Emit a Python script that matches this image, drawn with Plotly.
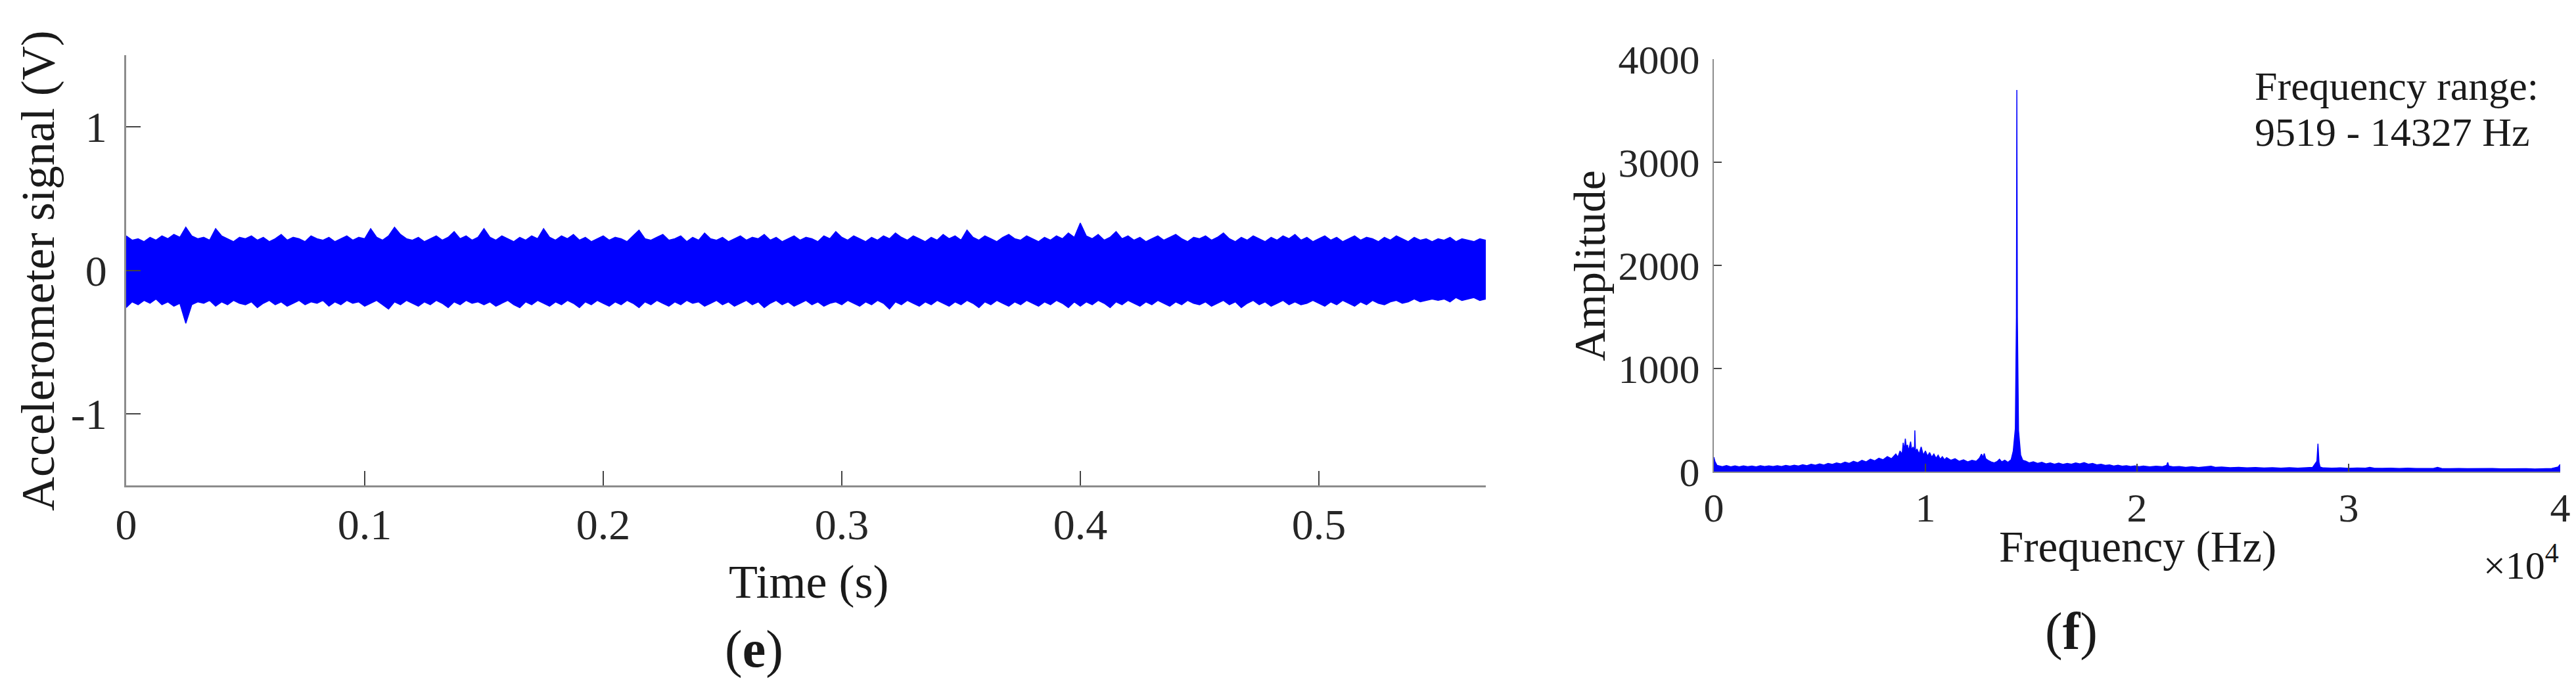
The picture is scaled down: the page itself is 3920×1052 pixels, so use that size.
import numpy as np
import plotly.graph_objects as go

W, H = 3920, 1052

# ---------------- (e) accelerometer signal: envelope ----------------
T_END = 0.57
SIG_UPPER = [
    0.24, 0.21, 0.22, 0.20, 0.23, 0.21, 0.24, 0.22, 0.25, 0.23, 0.30, 0.24, 0.22, 0.23, 0.21, 0.29, 0.24, 0.22, 0.20, 0.23,
    0.22, 0.24, 0.21, 0.23, 0.20, 0.22, 0.25, 0.21, 0.23, 0.22, 0.20, 0.24, 0.22, 0.21, 0.23, 0.20, 0.22, 0.24, 0.21, 0.23,
    0.22, 0.29, 0.23, 0.21, 0.24, 0.30, 0.25, 0.22, 0.21, 0.23, 0.20, 0.22, 0.24, 0.21, 0.23, 0.27, 0.22, 0.24, 0.21, 0.23,
    0.29, 0.23, 0.21, 0.24, 0.22, 0.20, 0.23, 0.21, 0.24, 0.22, 0.29, 0.23, 0.21, 0.24, 0.22, 0.25, 0.21, 0.23, 0.20, 0.22,
    0.24, 0.21, 0.23, 0.22, 0.20, 0.24, 0.28, 0.22, 0.21, 0.23, 0.25, 0.21, 0.22, 0.24, 0.20, 0.23, 0.21, 0.26, 0.22, 0.21,
    0.23, 0.20, 0.22, 0.24, 0.21, 0.23, 0.22, 0.25, 0.21, 0.23, 0.20, 0.22, 0.24, 0.21, 0.23, 0.22, 0.20, 0.24, 0.22, 0.27,
    0.23, 0.21, 0.24, 0.22, 0.20, 0.23, 0.21, 0.24, 0.22, 0.26, 0.23, 0.21, 0.24, 0.22, 0.20, 0.23, 0.21, 0.25, 0.22, 0.24,
    0.21, 0.28, 0.23, 0.21, 0.24, 0.22, 0.20, 0.23, 0.25, 0.22, 0.21, 0.24, 0.22, 0.20, 0.23, 0.21, 0.24, 0.22, 0.26, 0.23,
    0.33, 0.24, 0.22, 0.25, 0.21, 0.23, 0.27, 0.22, 0.24, 0.21, 0.23, 0.20, 0.22, 0.24, 0.21, 0.23, 0.25, 0.22, 0.20, 0.23,
    0.22, 0.24, 0.21, 0.23, 0.26, 0.22, 0.20, 0.23, 0.21, 0.24, 0.22, 0.20, 0.23, 0.21, 0.24, 0.22, 0.25, 0.21, 0.23, 0.20,
    0.22, 0.24, 0.21, 0.23, 0.20, 0.22, 0.24, 0.21, 0.23, 0.22, 0.20, 0.23, 0.21, 0.24, 0.22, 0.20, 0.23, 0.21, 0.22, 0.20,
    0.22, 0.21, 0.23, 0.20, 0.22, 0.21, 0.20, 0.22, 0.21,
]
SIG_LOWER = [
    -0.26, -0.22, -0.24, -0.21, -0.23, -0.20, -0.24, -0.22, -0.25, -0.23, -0.37, -0.24, -0.22, -0.23, -0.21, -0.25, -0.22, -0.24, -0.21, -0.23,
    -0.24, -0.22, -0.26, -0.23, -0.21, -0.24, -0.22, -0.25, -0.23, -0.21, -0.24, -0.22, -0.23, -0.21, -0.25, -0.22, -0.24, -0.21, -0.23, -0.22,
    -0.25, -0.23, -0.21, -0.24, -0.27, -0.22, -0.24, -0.21, -0.23, -0.25, -0.22, -0.24, -0.21, -0.23, -0.26, -0.22, -0.24, -0.21, -0.23, -0.22,
    -0.24, -0.22, -0.25, -0.23, -0.21, -0.24, -0.26, -0.22, -0.24, -0.21, -0.23, -0.25, -0.22, -0.24, -0.21, -0.23, -0.26, -0.22, -0.24, -0.21,
    -0.23, -0.25, -0.22, -0.24, -0.21, -0.23, -0.26, -0.22, -0.24, -0.21, -0.23, -0.25, -0.22, -0.24, -0.21, -0.23, -0.22, -0.25, -0.23, -0.21,
    -0.24, -0.22, -0.25, -0.23, -0.21, -0.24, -0.22, -0.26, -0.23, -0.21, -0.24, -0.22, -0.25, -0.23, -0.21, -0.24, -0.22, -0.25, -0.23, -0.22,
    -0.24, -0.21, -0.23, -0.25, -0.22, -0.24, -0.21, -0.23, -0.27, -0.22, -0.24, -0.21, -0.23, -0.25, -0.22, -0.24, -0.21, -0.23, -0.25, -0.22,
    -0.24, -0.21, -0.23, -0.26, -0.22, -0.24, -0.21, -0.23, -0.25, -0.22, -0.24, -0.21, -0.23, -0.25, -0.22, -0.24, -0.21, -0.23, -0.26, -0.22,
    -0.25, -0.22, -0.24, -0.21, -0.23, -0.26, -0.22, -0.24, -0.21, -0.23, -0.25, -0.22, -0.24, -0.21, -0.23, -0.25, -0.22, -0.24, -0.21, -0.23,
    -0.24, -0.22, -0.25, -0.23, -0.21, -0.24, -0.22, -0.26, -0.23, -0.21, -0.24, -0.22, -0.25, -0.23, -0.21, -0.24, -0.22, -0.24, -0.23, -0.21,
    -0.23, -0.25, -0.22, -0.24, -0.21, -0.23, -0.25, -0.22, -0.24, -0.21, -0.23, -0.24, -0.22, -0.21, -0.23, -0.22, -0.20, -0.22, -0.21, -0.20,
    -0.21, -0.20, -0.22, -0.19, -0.21, -0.20, -0.19, -0.21, -0.20,
]
SIG_TIME = np.linspace(0.0, T_END, len(SIG_UPPER))

TIME_TICKS = [0, 0.1, 0.2, 0.3, 0.4, 0.5]
TIME_TICK_LABELS = ["0", "0.1", "0.2", "0.3", "0.4", "0.5"]
VOLT_TICKS = [-1, 0, 1]
VOLT_TICK_LABELS = ["-1", "0", "1"]

# ---------------- (f) spectrum envelope ----------------
SPEC_FREQ = [
    0, 50, 150, 400, 600, 800, 1000, 1200, 1400, 1600, 1800, 2000, 2200, 2400,
    2600, 2800, 3000, 3200, 3400, 3600, 3800, 4000, 4200, 4400, 4600, 4800,
    5000, 5200, 5400, 5600, 5800, 6000, 6200, 6400, 6600, 6800, 7000, 7200,
    7400, 7600, 7800, 8000, 8200, 8400, 8600, 8700, 8800, 8900, 8950, 9000,
    9050, 9100, 9150, 9200, 9300, 9350, 9420, 9480, 9500, 9530, 9600, 9700,
    9800, 9900, 10000, 10100, 10200, 10300, 10400, 10500, 10600, 10700, 10800,
    10900, 11000, 11200, 11400, 11600, 11800, 12000, 12200, 12400, 12550, 12650,
    12720, 12780, 12850, 12950, 13100, 13250, 13400, 13500, 13600, 13750, 13900,
    14050, 14150, 14250, 14300, 14320, 14345, 14400, 14500, 14600, 14750, 14900,
    15100, 15300, 15500, 15700, 15900, 16100, 16300, 16500, 16700, 16900, 17100,
    17300, 17500, 17700, 17900, 18100, 18300, 18500, 18700, 18900, 19100, 19300,
    19500, 19700, 19900, 20100, 20300, 20600, 20900, 21200, 21400, 21450, 21500,
    21700, 22000, 22300, 22600, 22900, 23200, 23500, 23700, 24000, 24400, 24800,
    25200, 25600, 26000, 26400, 26800, 27200, 27600, 28000, 28300, 28500, 28550,
    28600, 28650, 28800, 29200, 29600, 30000, 30400, 30800, 31000, 31200, 31600,
    32000, 32400, 32800, 33200, 33600, 34000, 34200, 34400, 34800, 35200, 35600,
    36000, 36400, 36800, 37200, 37600, 38000, 38400, 38800, 39200, 39600, 39900,
    40000,
]
SPEC_AMP = [
    140, 100, 60, 48, 58, 46, 55, 47, 56, 48, 54, 46, 57, 49,
    55, 50, 58, 50, 60, 52, 62, 54, 66, 58, 72, 62,
    75, 64, 80, 70, 85, 75, 92, 80, 100, 86, 110, 95,
    120, 105, 130, 115, 145, 125, 170, 140, 200, 170, 280, 200,
    320, 230, 260, 200, 290, 210, 240, 180, 400, 190, 220, 170,
    240, 160, 200, 150, 185, 140, 170, 130, 160, 120, 145,
    115, 135, 110, 125, 100, 115, 95, 110, 100, 130, 170,
    140, 175, 125, 110, 95, 85, 100, 120, 95, 110, 90,
    115, 200, 420, 1500, 3700, 1500, 400, 160, 110, 100, 85,
    95, 80, 90, 75, 85, 72, 82, 70, 80, 72, 85,
    75, 88, 72, 80, 65, 72, 60, 66, 55, 62, 52,
    58, 50, 56, 48, 54, 46, 52, 48, 60, 90, 55,
    46, 50, 42, 48, 40, 46, 52, 42, 44, 38, 42,
    36, 40, 35, 39, 34, 38, 34, 37, 42, 100, 270,
    90, 45, 36, 33, 36, 32, 35, 33, 42, 34, 32,
    34, 31, 33, 30, 32, 31, 42, 31, 29, 31, 28,
    30, 28, 30, 27, 29, 27, 29, 26, 28, 30, 45,
    70,
]
FREQ_TICKS = [0, 10000, 20000, 30000, 40000]
FREQ_TICK_LABELS = ["0", "1", "2", "3", "4"]
AMP_TICKS = [0, 1000, 2000, 3000, 4000]
AMP_TICK_LABELS = ["0", "1000", "2000", "3000", "4000"]

BLUE = "#0000FF"
FONT = "Liberation Serif"


def px(x):
    return x / W


def py(y):
    return 1 - y / H


fig = go.Figure()

fig.add_trace(go.Scatter(x=SIG_TIME, y=SIG_UPPER, mode="lines",
                         line=dict(color=BLUE, width=1.5), xaxis="x", yaxis="y",
                         hoverinfo="skip"))
fig.add_trace(go.Scatter(x=SIG_TIME, y=SIG_LOWER, mode="lines",
                         line=dict(color=BLUE, width=1.5), fill="tonexty",
                         fillcolor=BLUE, xaxis="x", yaxis="y", hoverinfo="skip"))

fig.add_trace(go.Scatter(x=SPEC_FREQ, y=SPEC_AMP, mode="lines",
                         line=dict(color=BLUE, width=1.5), fill="tozeroy",
                         fillcolor=BLUE, xaxis="x2", yaxis="y2", hoverinfo="skip"))

axis_common = dict(showline=True, linecolor="#8c8c8c", showgrid=False,
                   zeroline=False, ticks="inside", tickcolor="#444444",
                   mirror=False, automargin=False)

fig.update_layout(
    width=W, height=H,
    margin=dict(l=0, r=0, t=0, b=0, pad=0),
    paper_bgcolor="white", plot_bgcolor="white",
    showlegend=False,
    xaxis=dict(domain=[px(184), px(2253)], range=[0, T_END], anchor="y",
               tickvals=TIME_TICKS, ticktext=TIME_TICK_LABELS,
               ticklen=22, tickwidth=2, linewidth=3,
               tickfont=dict(family=FONT, size=66, color="#262626"),
               ticklabelstandoff=0, **axis_common),
    yaxis=dict(domain=[py(731), py(76)], range=[-1.5, 1.5], anchor="x",
               tickvals=VOLT_TICKS, ticktext=VOLT_TICK_LABELS,
               ticklen=22, tickwidth=2, linewidth=3,
               tickfont=dict(family=FONT, size=66, color="#262626"),
               ticklabelstandoff=13, **axis_common),
    xaxis2=dict(domain=[px(2600), px(3888)], range=[0, 40000], anchor="y2",
                tickvals=FREQ_TICKS, ticktext=FREQ_TICK_LABELS,
                ticklen=12, tickwidth=2, linewidth=2,
                tickfont=dict(family=FONT, size=62, color="#262626"),
                ticklabelstandoff=0, **axis_common),
    yaxis2=dict(domain=[py(710), py(82)], range=[0, 4000], anchor="x2",
                tickvals=AMP_TICKS, ticktext=AMP_TICK_LABELS,
                ticklen=12, tickwidth=2, linewidth=2,
                tickfont=dict(family=FONT, size=62, color="#262626"),
                ticklabelstandoff=7, **axis_common),
)


def ann(text, x, y, size, angle=0, xanchor="center", yanchor="middle"):
    fig.add_annotation(text=text, x=px(x), y=py(y), xref="paper", yref="paper",
                       showarrow=False, textangle=angle, xanchor=xanchor,
                       yanchor=yanchor,
                       font=dict(family=FONT, size=size, color="#1a1a1a"))


ann("Accelerometer signal (V)", 50, 404, 72, angle=-90)
ann("Time (s)", 1222, 878, 72)
ann("(<b>e</b>)", 1139, 980, 80)
ann("Amplitude", 2411, 397, 68, angle=-90)
ann("Frequency (Hz)", 3245, 824, 67)
ann("×10<sup>4</sup>", 3888, 848, 60, xanchor="right")
ann("(<b>f</b>)", 3144, 953, 80)
ann("Frequency range:", 3421, 123, 62, xanchor="left")
ann("9519 - 14327 Hz", 3421, 193, 62, xanchor="left")

fig.write_html("out.html")
